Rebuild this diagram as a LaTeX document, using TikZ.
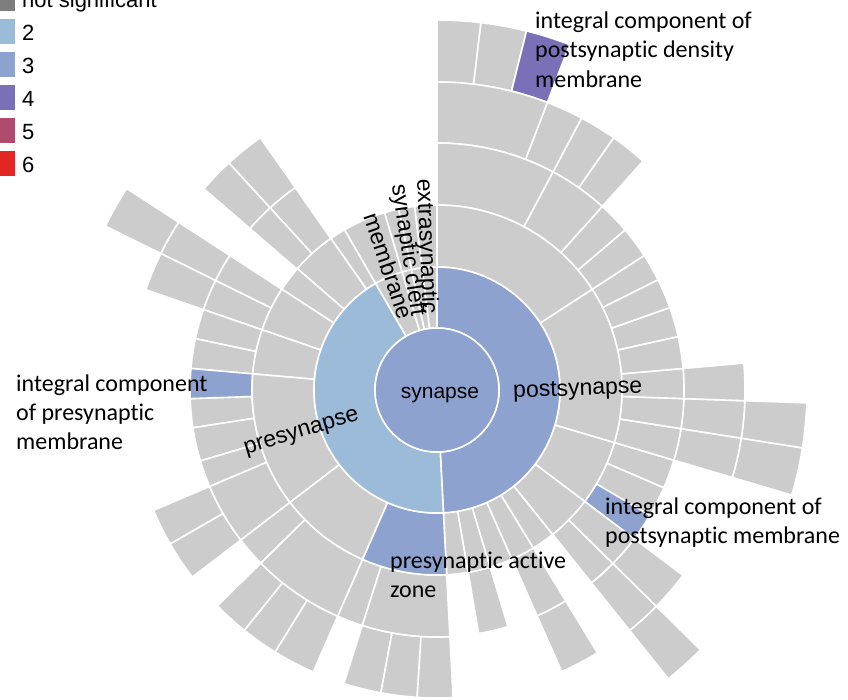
\documentclass[tikz,border=0pt]{standalone}
\usepackage{fontspec}
\setmainfont{Liberation Sans}
\newfontfamily\calib[Ligatures=NoCommon]{Carlito}
\definecolor{cns}{RGB}{125,125,125}
\definecolor{ctwo}{RGB}{155,187,216}
\definecolor{cthree}{RGB}{142,162,207}
\definecolor{cfour}{RGB}{122,112,183}
\definecolor{cfive}{RGB}{175,75,110}
\definecolor{csix}{RGB}{226,38,38}
\definecolor{cgray}{RGB}{204,204,204}
\def\RadA{62}\def\RadB{123}\def\RadC{185}\def\RadD{247}\def\RadE{308}\def\RadF{370}
\newcommand{\sect}[5]{\filldraw[seg, fill=#5] (#3:#1pt) arc[start angle=#3, end angle=#4, radius=#1pt] -- (#4:#2pt) arc[start angle=#4, end angle=#3, radius=#2pt] -- cycle;}
\newcommand{\fS}{\fontsize{21}{25}\selectfont}
\newcommand{\fA}{\fontsize{23}{27}\selectfont}
\newcommand{\fC}{\calib\fontsize{24}{29}\selectfont}
\newcommand{\fL}{\fontsize{22}{26}\selectfont}
\begin{document}
\begin{tikzpicture}[x=1pt,y=1pt,
  seg/.style={draw=white, line width=1.6pt, line join=round},
  lab/.style={inner sep=0pt, text=black},
  big/.style={inner sep=0pt, anchor=base west, font=\fC, text=black},
  leg/.style={inner sep=0pt, anchor=base west, font=\fL, text=black}]
\path[use as bounding box] (0,-699) rectangle (848,0);
\clip (0,-699) rectangle (848,0);
\begin{scope}[shift={(437,-390)}]
  % level 5
  \foreach \a/\b in {147/153.7,-51.3/-44.6,-16.5/-9,-9/-2,76/83.2,83.2/90}{\sect{\RadE}{\RadF}{\a}{\b}{cgray}}
  \sect{\RadE}{\RadF}{69}{76}{cfour}
  % level 4
  \foreach \a/\b in {125/132.5,132.5/139.2,147/153.7,153.7/161,203/210,210/217.4,224.5/231.3,231.3/238.3,238.3/246.3,252.4/259.5,259.5/266.3,266.3/273,-66.1/-58.6,-51.3/-44.6,-44.6/-37,-16.5/-9,-9/-2,-2/5,48/55,55/62,62/69,69/90}{\sect{\RadD}{\RadE}{\a}{\b}{cgray}}
  % level 3
  \foreach \a/\b in {125/132.5,132.5/139.2,147/153.7,153.7/161,161/168,168/175,182/188.8,188.8/196.7,196.7/203,203/217.4,217.4/224.5,224.5/246.3,246.3/252.4,252.4/273,-80.3/-73.3,-66.1/-58.6,-51.3/-44.6,-44.6/-37,-30.5/-23.3,-23.3/-16.5,-16.5/-9,-9/-2,-2/5,5/12.5,12.5/19.5,19.5/26.5,26.5/33,33/40.4,40.4/48,48/62,62/90}{\sect{\RadC}{\RadD}{\a}{\b}{cgray}}
  \sect{\RadC}{\RadD}{175}{182}{cthree}
  \sect{\RadC}{\RadD}{-37}{-30.5}{cthree}
  % level 2
  \foreach \a/\b in {90/97,97/102,102/106.5,106.5/120,120/125,125/139,139/147,147/161,161/175,175/217.4,217.4/246.3,-87/-80.3,-80.3/-73.3,-73.3/-66.1,-66.1/-58.6,-58.6/-51.3,-51.3/-37,-37/-16.5,-16.5/33,33/90}{\sect{\RadB}{\RadC}{\a}{\b}{cgray}}
  \sect{\RadB}{\RadC}{246.3}{273}{cthree}
  % level 1
  \foreach \a/\b in {90/97,97/102,102/106.5,106.5/120}{\sect{\RadA}{\RadB}{\a}{\b}{cgray}}
  \sect{\RadA}{\RadB}{-87}{90}{cthree}
  \sect{\RadA}{\RadB}{120}{273}{ctwo}
  % centre
  \filldraw[seg, fill=cthree] (0,0) circle[radius=62pt];
\end{scope}
% ring labels
\node[lab, anchor=base, font=\fS] (synapse) at (440,-398) {synapse};
\node[lab, anchor=base, rotate=2, font=\fA] (postsynapse) at (578,-395.3) {postsynapse};
\node[lab, anchor=base, rotate=16.7, font=\fA] (presynapse) at (303,-437) {presynapse};
\node[lab, anchor=center, rotate=-87.6, font=\fA] (extrasyn) at (426,-246.5) {extrasynaptic};
\node[lab, anchor=center, rotate=-81.5, font=\fA] (cleft) at (407.5,-250) {synaptic cleft};
\node[lab, anchor=center, rotate=-71, font=\fA] (membrane) at (389,-266) {membrane};
% callout labels
\node[big] (pdA) at (535,-28.5) {integral component of};
\node[big] (pdB) at (535,-57.8) {postsynaptic density};
\node[big] (pdC) at (535,-87) {membrane};
\node[big] (prA) at (16,-391.5) {integral component};
\node[big] (prB) at (16,-420.5) {of presynaptic};
\node[big] (prC) at (16,-449.5) {membrane};
\node[big] (pmA) at (605,-514) {integral component of};
\node[big] (pmB) at (605,-543) {postsynaptic membrane};
\node[big] (azA) at (390,-568) {presynaptic active};
\node[big] (azB) at (390,-597) {zone};
% legend
\foreach \b/\c/\t/\n in {7.5/cns/not significant/lgns,40.5/ctwo/2/lgtwo,73.5/cthree/3/lgthree,106.5/cfour/4/lgfour,139.5/cfive/5/lgfive,172.5/csix/6/lgsix}{%
  \fill[\c] (-12,-\b+21.5) rectangle (15,-\b-3.5);
  \node[leg] (\n) at (22,-\b) {\t};}
\end{tikzpicture}
\end{document}
